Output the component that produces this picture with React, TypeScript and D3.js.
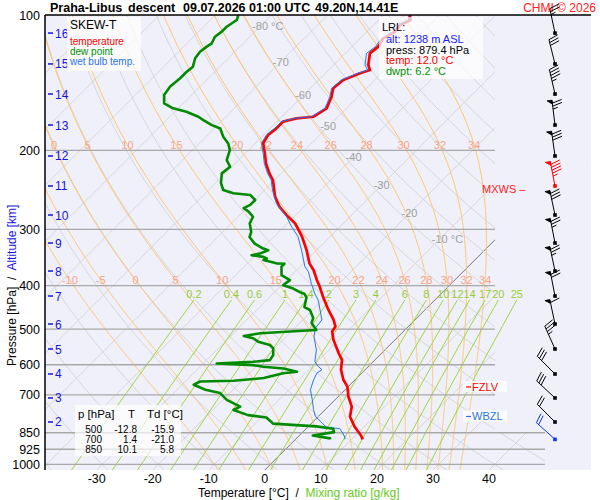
import React from "react";
import * as d3 from "d3";

// ---------------- DATA ----------------
const titleParts = ["Praha-Libus", "descent", "09.07.2026 01:00 UTC", "49.20N,14.41E"];
const titleX = [50, 128, 183, 315];
const pressureTicks = [100, 200, 300, 400, 500, 600, 700, 850, 925, 1000];
const temperatureTicks = [-30, -20, -10, 0, 10, 20, 30, 40];
const altitudeKm = [16, 15, 14, 13, 12, 11, 10, 9, 8, 7, 6, 5, 4, 3, 2];
const altitudeP = [109.7, 128.5, 149.9, 175.7, 205.9, 240.1, 278.6, 321.6, 371.2, 421.9, 487.0, 553.5, 629.1, 711.3, 804.5];
const isothermLabels = [-80, -70, -60, -50, -40, -30, -20, -10];
const isothermLabelP = [106, 127, 151, 177, 207, 239, 276, 315];
const moistThetaW = [-10, -5, 0, 5, 10, 15, 20, 22, 24, 26, 28, 30, 32, 34];
const moistLabelsUpper = [0, 5, 10, 15, 20, 22, 24, 26, 28, 30, 32, 34];
const mixingRatios = [0.2, 0.4, 0.6, 1, 1.4, 2, 3, 4, 6, 8, 10, 12, 14, 17, 20, 25];

const tempP = [100, 102.6, 105.3, 108.9, 112.7, 117.6, 121.7, 129.2, 132.6, 134.8, 139.5, 145.6, 152.0, 161.3, 168.4, 169.8, 172.7, 178.7, 184.8, 192.9, 203.1, 213.9, 225.2, 232.9, 253.9, 267.4, 278.8, 290.8, 311.3, 333.4, 357.0, 369.3, 388.8, 402.4, 423.8, 453.2, 476.9, 493.3, 506.0, 527.9, 565.1, 584.9, 615.5, 647.8, 670.4, 706.0, 743.7, 783.3, 825.7, 862.0, 879.4];
const tempT = [-55.3, -54.3, -55.3, -55.0, -55.9, -55.3, -55.6, -53.8, -52.6, -53.8, -55.6, -55.9, -54.7, -53.5, -54.4, -57.1, -58.9, -58.9, -59.2, -58.6, -56.5, -54.5, -52.1, -50.3, -46.9, -44.3, -41.6, -38.6, -35.0, -31.8, -28.9, -27.0, -24.6, -22.9, -20.5, -17.2, -14.5, -13.0, -12.7, -11.0, -7.7, -5.9, -4.3, -2.1, -0.2, 1.8, 4.2, 5.7, 8.4, 11.0, 12.0];

const dewP = [100, 102.6, 106.2, 108.9, 111.8, 115.6, 117.6, 120.7, 124.8, 130.3, 133.7, 138.3, 144.3, 150.6, 157.2, 161.3, 164.2, 168.4, 171.3, 175.8, 178.8, 186.5, 193.1, 199.9, 210.3, 217.6, 225.1, 236.7, 245.1, 249.2, 251.4, 258.0, 264.6, 269.0, 273.8, 281.1, 290.8, 303.9, 311.9, 322.6, 330.9, 333.8, 339.5, 342.3, 345.3, 348.0, 350.9, 356.9, 357.5, 363.1, 379.0, 389.0, 399.3, 406.2, 413.6, 417.1, 424.5, 446.6, 453.2, 472.0, 484.3, 502.0, 506.0, 510.6, 517.6, 523.8, 533.1, 542.3, 551.9, 571.2, 586.0, 591.0, 596.0, 601.1, 606.2, 611.4, 621.7, 626.6, 642.4, 651.3, 653.6, 664.8, 682.1, 693.8, 718.3, 743.7, 756.6, 776.6, 786.1, 811.3, 818.5, 822.8, 832.6, 847.2, 862.0, 875.0, 879.4];
const dewT = [-85.9, -85.3, -85.9, -85.9, -86.2, -85.6, -85.9, -86.2, -85.9, -84.8, -85.0, -85.0, -85.3, -84.9, -83.4, -80.9, -77.9, -74.9, -73.4, -71.0, -68.9, -66.9, -64.8, -63.3, -62.1, -60.3, -60.6, -59.0, -57.4, -55.0, -51.7, -49.9, -49.9, -50.5, -49.0, -47.3, -46.7, -44.9, -44.3, -42.2, -39.8, -38.6, -39.5, -40.7, -38.3, -37.4, -37.7, -34.8, -33.3, -33.3, -31.8, -29.4, -29.7, -27.3, -25.5, -24.4, -23.4, -22.0, -20.5, -18.5, -17.9, -15.8, -20.2, -25.2, -27.7, -25.6, -24.1, -21.4, -20.2, -19.0, -18.7, -21.4, -27.6, -20.8, -18.7, -14.8, -11.8, -14.0, -16.6, -21.5, -27.3, -27.9, -24.9, -21.7, -19.3, -15.7, -16.3, -12.8, -9.1, -6.8, -1.7, 1.4, 4.8, 5.6, 2.4, 6.0, 6.2];

const wetP = [100, 102.6, 105.3, 108.9, 112.7, 117.6, 121.7, 129.2, 132.6, 134.8, 139.5, 145.6, 152.0, 161.3, 168.4, 169.8, 172.7, 178.7, 184.8, 192.9, 203.1, 213.9, 225.2, 232.9, 245.1, 262.5, 281.1, 296.0, 311.3, 333.4, 363.3, 372.5, 395.5, 416.4, 430.8, 453.2, 476.9, 497.7, 519.7, 556.6, 590.5, 605.7, 615.5, 626.0, 647.8, 681.7, 717.2, 754.7, 781.0, 825.7, 832.6, 854.4, 869.3, 879.4];
const wetT = [-55.6, -54.6, -55.6, -55.3, -56.2, -55.8, -56.2, -54.4, -53.0, -54.2, -55.9, -56.2, -55.0, -53.8, -54.7, -57.4, -59.2, -59.2, -59.5, -58.9, -56.8, -54.8, -52.4, -50.6, -48.6, -45.5, -41.3, -38.6, -35.7, -32.7, -29.1, -27.6, -25.0, -22.6, -20.8, -18.7, -16.6, -16.3, -15.0, -12.2, -10.4, -8.9, -7.7, -8.0, -7.4, -6.2, -4.1, -2.1, -0.6, 3.3, 6.0, 7.5, 8.4, 8.8];

const windP = [109.7, 128.5, 149.9, 175.7, 205.9, 240.1, 278.6, 321.6, 371.2, 421.9, 487.0, 553.5, 629.1, 711.3, 804.5, 879.4];
const windDir = [348, 346, 347, 353, 352, 349, 348, 349, 348, 349, 348, 336, 315, 313, 315, 312];
const windSpd = [25, 30, 45, 75, 80, 95, 80, 75, 75, 70, 60, 35, 30, 30, 20, 20];
const windColor = ["#000", "#000", "#000", "#000", "#000", "#f00", "#000", "#000", "#000", "#000", "#000", "#000", "#000", "#000", "#000", "#1030f0"];

const tableP = [500, 700, 850];
const tableT = [-12.8, 1.4, 10.1];
const tableTd = [-15.9, -21.0, 5.8];

const lrlLines = ["alt: 1238 m ASL", "press: 879.4 hPa", "temp: 12.0 °C", "dwpt: 6.2 °C"];
const lrlColors = ["#2020ff", "#000", "#ff0000", "#009000"];
const levelMarks = [
  { name: "FZLV", p: 672.4, color: "#ff0000" },
  { name: "WBZL", p: 782, color: "#2a74e8" },
];

const FONT = '"Liberation Sans", Arial, Helvetica, sans-serif';

// -------------- thermodynamics helpers --------------
function es(Tc: number) {
  return 6.112 * Math.exp((17.67 * Tc) / (Tc + 243.5));
}
function moistLapse(p: number, Tk: number) {
  const Rd = 287.04, cp = 1005.7, L = 2.501e6, eps = 0.622;
  const e = es(Tk - 273.15);
  const rs = (eps * e) / (p - e);
  return (Rd * Tk + L * rs) / (p * (cp + (L * L * rs * eps) / (Rd * Tk * Tk)));
}
function moistCurve(thw: number, pBot: number): [number, number][] {
  const up: [number, number][] = [];
  let T = thw + 273.15, p = 1000;
  let dp = -2;
  while (p >= 98) {
    up.push([p, T - 273.15]);
    const k1 = moistLapse(p, T);
    const k2 = moistLapse(p + dp / 2, T + (k1 * dp) / 2);
    T += k2 * dp; p += dp;
  }
  const down: [number, number][] = [];
  T = thw + 273.15; p = 1000; dp = 2;
  while (p < pBot + 2) {
    const k1 = moistLapse(p, T);
    const k2 = moistLapse(p + dp / 2, T + (k1 * dp) / 2);
    T += k2 * dp; p += dp;
    down.push([p, T - 273.15]);
  }
  return [...down.reverse(), ...up];
}
function interpAt(curve: [number, number][], p: number) {
  for (let i = 0; i < curve.length - 1; i++) {
    const a = curve[i], b = curve[i + 1];
    if ((a[0] - p) * (b[0] - p) <= 0) {
      const t = (p - a[0]) / (b[0] - a[0] || 1);
      return a[1] + t * (b[1] - a[1]);
    }
  }
  return curve[curve.length - 1][1];
}
function mixT(w: number, p: number) {
  const e = (w * p) / (622 + w);
  const l = Math.log(e / 6.112);
  return (243.5 * l) / (17.67 - l);
}

function Barb({ x, y, dir, spd, color }: { x: number; y: number; dir: number; spd: number; color: string }) {
  const r = Math.PI / 180;
  const L = 25;
  const ux = Math.sin(dir * r), uy = -Math.cos(dir * r);
  const tx = x + L * ux, ty = y + L * uy;
  const bd = (dir + 75) * r;
  const bx = Math.sin(bd) * 10, by = -Math.cos(bd) * 10;
  const ld = (dir - 90) * r;
  const lx = Math.sin(ld) * 5, ly = -Math.cos(ld) * 5;
  let rest = Math.round(spd / 5) * 5;
  const pennants = Math.floor(rest / 50); rest -= pennants * 50;
  const full = Math.floor(rest / 10); rest -= full * 10;
  const half = rest >= 5 ? 1 : 0;
  const els: React.ReactNode[] = [];
  let pos = 0;
  for (let i = 0; i < pennants; i++) {
    const ax = tx - ux * pos, ay = ty - uy * pos;
    const cx = tx - ux * (pos + 4), cy = ty - uy * (pos + 4);
    els.push(<polygon key={"p" + i} points={`${ax},${ay} ${ax + lx},${ay + ly} ${cx},${cy}`} fill={color} stroke={color} strokeWidth={0.8} />);
    pos += 3;
  }
  for (let i = 0; i < full; i++) {
    const ax = tx - ux * pos, ay = ty - uy * pos;
    els.push(<line key={"f" + i} x1={ax} y1={ay} x2={ax + bx} y2={ay + by} stroke={color} strokeWidth={1} />);
    pos += 3;
  }
  if (half) {
    if (pos === 0) pos = 3;
    const ax = tx - ux * pos, ay = ty - uy * pos;
    els.push(<line key="h" x1={ax} y1={ay} x2={ax + bx * 0.5} y2={ay + by * 0.5} stroke={color} strokeWidth={1} />);
  }
  return (
    <g>
      <line x1={x} y1={y} x2={tx} y2={ty} stroke={color} strokeWidth={1} />
      {els}
      <rect x={x - 1.8} y={y - 1.8} width={3.6} height={3.6} fill={color} />
    </g>
  );
}

export default function App() {
  const Y_TOP = 15, Y_BOT = 470, X_L = 45, X_R = 495, X_R2 = 545;
  const yS = d3.scaleLog().domain([100, 1000]).range([15, 464.46]);
  const xS = d3.scaleLinear().domain([-30, 40]).range([96.7, 489]);
  const pBot = yS.invert(Y_BOT);
  const sx = (T: number, p: number) => xS(T) + (Y_BOT - yS(p));
  const line = d3.line<[number, number]>().x((d) => sx(d[1], d[0])).y((d) => yS(d[0]));
  const y850 = yS(850);

  const logP = (n: number, p0: number, p1: number) => d3.range(n + 1).map((i) => p0 * Math.pow(p1 / p0, i / n));

  const isotherms = d3.range(-150, 60, 10);
  const dryThetas = d3.range(-40, 220, 10);
  const dryP = logP(60, pBot, 100);
  const moist = moistThetaW.map((t) => moistCurve(t, pBot));
  const mixTopP = yS.invert(300);
  const mixP = logP(20, pBot, mixTopP);

  const tempData = tempP.map((p, i) => [p, tempT[i]] as [number, number]);
  const dewData = dewP.map((p, i) => [p, dewT[i]] as [number, number]);
  const wetData = wetP.map((p, i) => [p, wetT[i]] as [number, number]);

  return (
    <svg width={600} height={500} style={{ position: "absolute", left: 0, top: 0, background: "#fff" }} fontFamily={FONT}>
      <defs>
        <clipPath id="clipMain">
          <path d={`M${X_L},${Y_TOP} H${X_R} V${y850} H${X_R2} V${Y_BOT} H${X_L} Z`} />
        </clipPath>
        <clipPath id="clipMix">
          <rect x={X_L} y={Y_TOP} width={X_R2 - X_L} height={Y_BOT - Y_TOP} />
        </clipPath>
      </defs>
      <rect x={X_L} y={Y_TOP} width={591 - X_L} height={Y_BOT - Y_TOP} fill="#f0f0fb" />

      <g clipPath="url(#clipMain)" fill="none">
        {isotherms.map((t) => (
          <path key={"it" + t} d={line([[pBot, t], [100, t]]) || ""} stroke={t === 0 ? "#777" : "#d6d6d6"} strokeWidth={1} />
        ))}
        {dryThetas.map((th) => (
          <path key={"da" + th} d={line(dryP.map((p) => [p, (th + 273.15) * Math.pow(p / 1000, 0.2857) - 273.15] as [number, number])) || ""} stroke="#d6d6d6" strokeWidth={1} />
        ))}
        {moist.map((c, i) => (
          <path key={"ma" + i} d={line(c) || ""} stroke="#ffc46e" strokeWidth={1} />
        ))}
      </g>
      <g clipPath="url(#clipMix)" fill="none">
        {mixingRatios.map((w) => (
          <path key={"mr" + w} d={line(mixP.map((p) => [p, mixT(w, p)] as [number, number])) || ""} stroke="#9ed63c" strokeWidth={1} />
        ))}
      </g>

      {/* pressure grid lines */}
      {pressureTicks.filter((p) => p > 100).map((p) => (
        <line key={"pl" + p} x1={X_L} x2={p >= 850 ? X_R2 : X_R} y1={yS(p)} y2={yS(p)} stroke="#a8a8a8" strokeWidth={1.3} />
      ))}

      {/* isotherm labels */}
      {isothermLabels.map((t, i) => {
        const p = isothermLabelP[i];
        const xx = sx(t, p);
        const unit = t === -80 || t === -10;
        return (
          <text key={"itl" + t} x={xx - 8} y={yS(p) + 4} fontSize={11} fill="#a0a0a0">
            {unit ? `${t} °C` : `${t}`}
          </text>
        );
      })}
      {/* moist adiabat labels */}
      {moistThetaW.map((t, i) => (
        <text key={"mlb" + t} x={sx(interpAt(moist[i], 389), 389)} y={yS(389) + 4} fontSize={11} fill="#f7a483" textAnchor="middle">
          {t}
        </text>
      ))}
      {moistThetaW.map((t, i) =>
        moistLabelsUpper.includes(t) ? (
          <text key={"mlu" + t} x={sx(interpAt(moist[i], 195), 195)} y={yS(195) + 4} fontSize={11} fill="#f7a483" textAnchor="middle">
            {t}
          </text>
        ) : null
      )}
      {/* mixing ratio labels */}
      {mixingRatios.map((w) => (
        <text key={"mrl" + w} x={sx(mixT(w, mixTopP), mixTopP)} y={298} fontSize={11} fill="#99cc33" textAnchor="middle">
          {w}
        </text>
      ))}

      {/* profiles */}
      <path d={line(tempData) || ""} fill="none" stroke="#ff0000" strokeWidth={2.7} strokeLinejoin="round" />
      <path d={line(wetData) || ""} fill="none" stroke="#2a74e8" strokeWidth={1} />
      <path d={line(dewData) || ""} fill="none" stroke="#008a00" strokeWidth={2.6} strokeLinejoin="round" />

      {/* axes */}
      <line x1={X_L} x2={591} y1={Y_TOP} y2={Y_TOP} stroke="#000" strokeWidth={1.5} />
      <line x1={X_L} x2={X_L} y1={Y_TOP} y2={Y_BOT} stroke="#000" strokeWidth={1.5} />
      {pressureTicks.map((p) => (
        <text key={"pt" + p} x={40} y={yS(p) + 4.5} fontSize={12.5} textAnchor="end" fill="#000">
          {p}
        </text>
      ))}
      {altitudeKm.map((k, i) => (
        <g key={"ak" + k}>
          <line x1={48} x2={53} y1={yS(altitudeP[i])} y2={yS(altitudeP[i])} stroke="#1515e0" strokeWidth={1.5} />
          <text x={55} y={yS(altitudeP[i]) + 4.5} fontSize={12} fill="#1515e0">
            {k}
          </text>
        </g>
      ))}
      {temperatureTicks.map((t) => (
        <text key={"tt" + t} x={xS(t)} y={483} fontSize={12.5} textAnchor="middle" fill="#000">
          {t}
        </text>
      ))}
      <text x={198} y={497} fontSize={12} fill="#000" style={{ whiteSpace: "pre" }}>
        {"Temperature [°C]  /  "}
        <tspan fill="#66cc22">Mixing ratio [g/kg]</tspan>
      </text>
      <text transform="translate(16,366) rotate(-90)" fontSize={12} fill="#000" style={{ whiteSpace: "pre" }}>
        {"Pressure [hPa]  /  "}
        <tspan fill="#1515e0">Altitude [km]</tspan>
      </text>

      {/* title */}
      {titleParts.map((t, i) => (
        <text key={"ti" + i} x={titleX[i]} y={12} fontSize={12.5} fontWeight="bold" fill="#000">
          {t}
        </text>
      ))}
      <text x={596} y={12} fontSize={12} textAnchor="end" fill="#ff2020">
        CHMI © 2026
      </text>

      {/* legend box */}
      <rect x={67} y={17} width={74} height={54} fill="#ffffff" opacity={0.75} />
      <text x={70} y={29} fontSize={12} fill="#000">SKEW-T</text>
      <text x={70} y={45} fontSize={10} fill="#ff0000">temperature</text>
      <text x={70} y={55} fontSize={10} fill="#009000">dew point</text>
      <text x={70} y={65} fontSize={10} fill="#2a74e8">wet bulb temp.</text>

      {/* LRL box */}
      <rect x={379} y={17} width={104} height={62} fill="#ffffff" opacity={0.7} />
      <text x={382} y={31} fontSize={11} fill="#000">LRL:</text>
      {lrlLines.map((s, i) => (
        <text key={"lrl" + i} x={386} y={43 + i * 10.5} fontSize={11} fill={lrlColors[i]}>
          {s}
        </text>
      ))}

      {/* table box */}
      <rect x={75} y={405} width={106} height={51} fill="#ffffff" opacity={0.7} />
      <text x={78} y={418} fontSize={11.5} fill="#000">p [hPa]</text>
      <text x={128} y={418} fontSize={11.5} fill="#000">T</text>
      <text x={147} y={418} fontSize={11.5} fill="#000">Td [°C]</text>
      {tableP.map((p, i) => (
        <g key={"tb" + p}>
          <text x={102} y={432.5 + i * 10.3} fontSize={10} textAnchor="end" fill="#000">{p}</text>
          <text x={137} y={432.5 + i * 10.3} fontSize={10} textAnchor="end" fill="#000">{tableT[i].toFixed(1)}</text>
          <text x={174} y={432.5 + i * 10.3} fontSize={10} textAnchor="end" fill="#000">{tableTd[i].toFixed(1)}</text>
        </g>
      ))}

      {/* level marks */}
      <text x={482} y={193} fontSize={11} fill="#ff2020" style={{ whiteSpace: "pre" }}>{"MXWS –"}</text>
      {levelMarks.map((m) => (
        <g key={m.name}>
          <rect x={463} y={yS(m.p) - 6} width={44} height={11} fill="#ffffff" opacity={0.8} />
          <line x1={466} x2={471} y1={yS(m.p)} y2={yS(m.p)} stroke={m.color} strokeWidth={1.2} />
          <text x={472} y={yS(m.p) + 4} fontSize={11} fill={m.color}>{m.name}</text>
        </g>
      ))}

      {/* wind barbs */}
      {windP.map((p, i) => (
        <Barb key={"wb" + i} x={555} y={yS(p)} dir={windDir[i]} spd={windSpd[i]} color={windColor[i]} />
      ))}
    </svg>
  );
}
